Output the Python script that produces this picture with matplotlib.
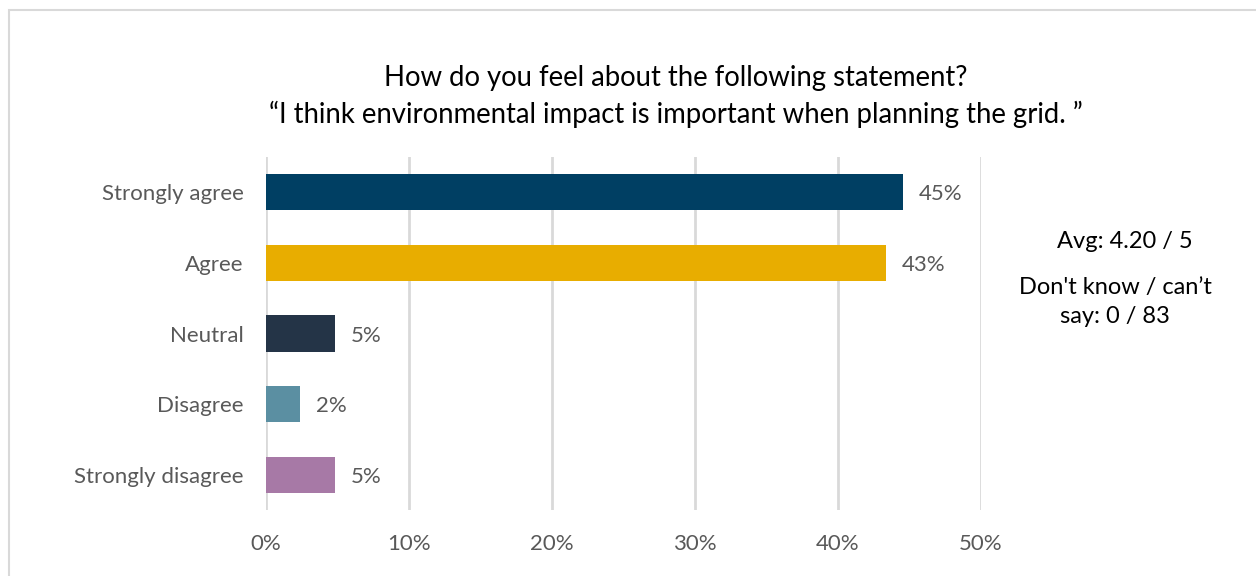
"""horizontal bar chart of survey responses"""
import matplotlib
matplotlib.use("Agg")
import matplotlib.pyplot as plt
from matplotlib.patches import Rectangle

### data
categories = ["Strongly agree", "Agree", "Neutral", "Disagree", "Strongly disagree"]
counts = [37, 36, 4, 2, 4]  # respondents per answer, 83 in total
scores = [5, 4, 3, 2, 1]
dont_know = 0
colors = ["#003F63", "#E8AD00", "#243447", "#5B8FA2", "#A779A6"]
xticks = [0, 10, 20, 30, 40, 50]

total = sum(counts) + dont_know
shares = [100.0 * c / total for c in counts]
avg = sum(c * s for c, s in zip(counts, scores)) / sum(counts)

plt.rcParams["font.family"] = ["Lato", "DejaVu Sans"]

W, H = 1256, 576
fig = plt.figure(figsize=(W / 100, H / 100), dpi=100)
ax = fig.add_axes([266 / W, 1 - 510 / H, (981 - 266) / W, (510 - 157) / H])

# outer frame of the chart area
fig.patches.append(Rectangle((9 / W, -0.1), 1.2, 1 - 10 / H + 0.1,
                             transform=fig.transFigure, fill=False,
                             edgecolor="#D9D9D9", linewidth=1.5))

y = list(range(len(categories)))
ax.barh(y, shares, height=0.51, color=colors, zorder=3)
for yi, v in zip(y, shares):
    ax.text(v + 1.1, yi, "%d%%" % round(v), va="center_baseline", ha="left",
            fontsize=16, color="#595959")

ax.set_xlim(0, 50)
ax.set_ylim(4.5, -0.5)
ax.set_xticks(xticks)
ax.set_xticklabels(["%d%%" % t for t in xticks])
ax.set_yticks(y)
ax.set_yticklabels(categories)
ax.tick_params(axis="both", length=0, labelsize=16, labelcolor="#595959")
ax.tick_params(axis="x", pad=17)
ax.tick_params(axis="y", pad=16)
ax.xaxis.grid(True, color="#D9D9D9", linewidth=2, zorder=0)
for s in ax.spines.values():
    s.set_visible(False)

fig.text(676 / W, 1 - 78 / H,
         "How do you feel about the following statement?",
         ha="center", va="center", fontsize=19.8, color="#000000")
fig.text(676 / W, 1 - 114 / H,
         "\u201cI think environmental impact is important when planning the grid. \u201d",
         ha="center", va="center", fontsize=19.8, color="#000000")

# side notes: average score and "don't know" count
fig.text(1125 / W, 1 - 241 / H, "Avg: %.2f / 5" % avg,
         ha="center", va="center", fontsize=17, color="#000000")
fig.text(1115 / W, 1 - 302 / H,
         "Don't know / can\u2019t\nsay: %d / %d" % (dont_know, total),
         ha="center", va="center", fontsize=17, color="#000000",
         linespacing=1.5)

fig.savefig("out.png", dpi=100, facecolor="white")
